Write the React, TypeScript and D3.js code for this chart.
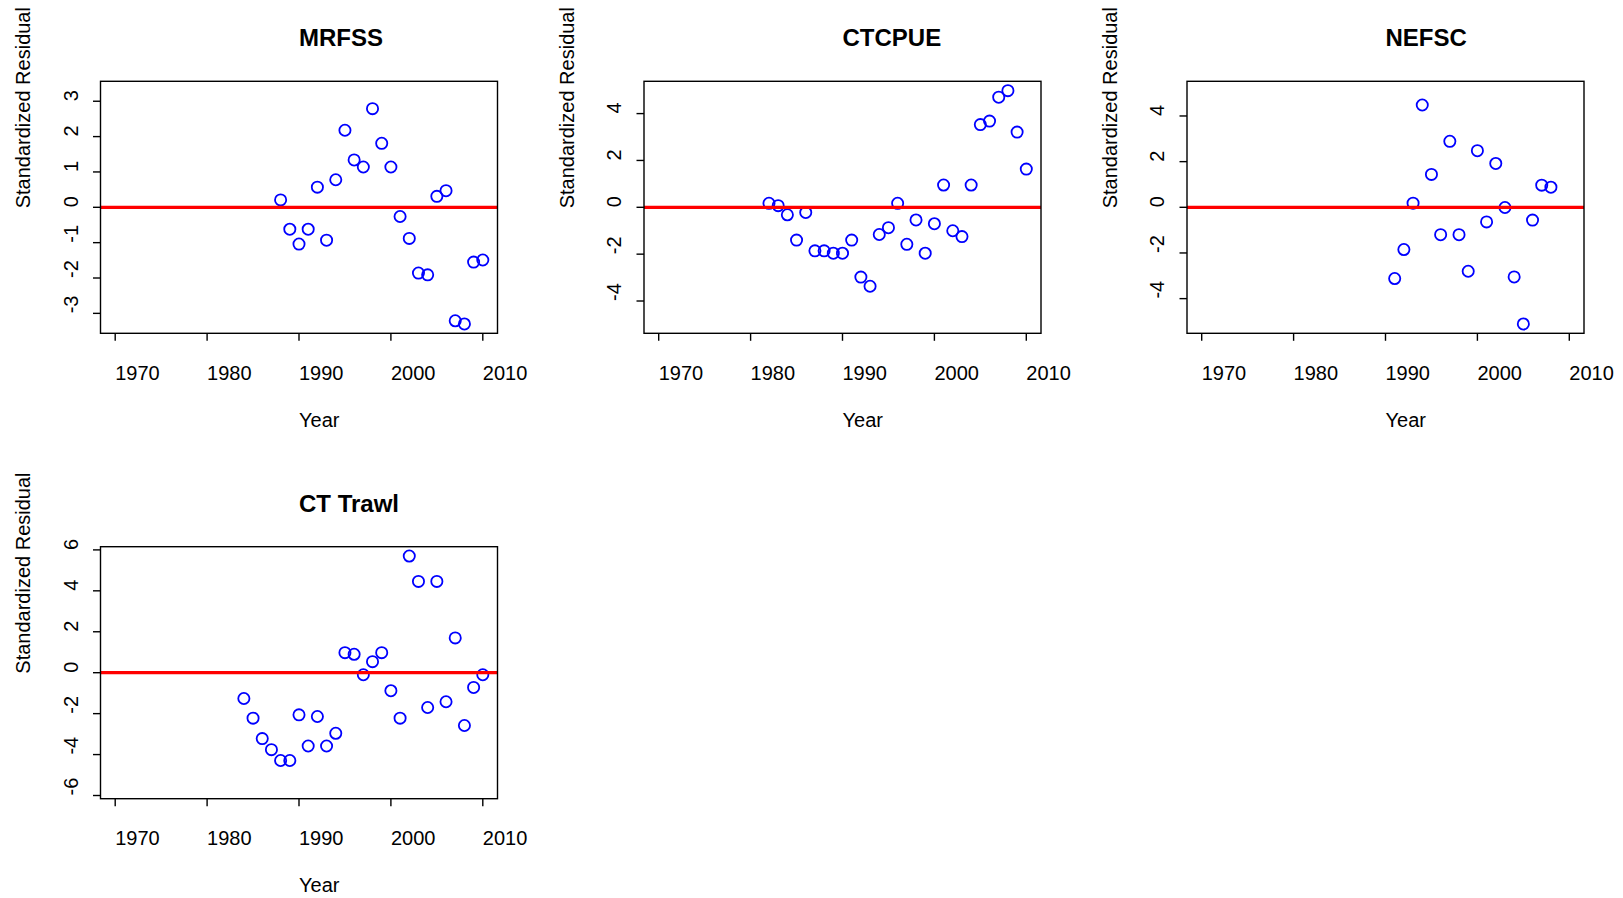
import * as d3 from 'd3';

// standardized residuals by survey
const mrfssYears = [1988, 1989, 1990, 1991, 1992, 1993, 1994, 1995, 1996, 1997, 1998, 1999, 2000, 2001, 2002, 2003, 2004, 2005, 2006, 2007, 2008, 2009, 2010];
const mrfssResid = [0.21, -0.62, -1.04, -0.62, 0.57, -0.93, 0.78, 2.18, 1.34, 1.14, 2.79, 1.81, 1.14, -0.26, -0.88, -1.86, -1.91, 0.31, 0.47, -3.21, -3.3, -1.55, -1.49];

const ctcpueYears = [1982, 1983, 1984, 1985, 1986, 1987, 1988, 1989, 1990, 1991, 1992, 1993, 1994, 1995, 1996, 1997, 1998, 1999, 2000, 2001, 2002, 2003, 2004, 2005, 2006, 2007, 2008, 2009, 2010];
const ctcpueResid = [0.17, 0.07, -0.32, -1.4, -0.22, -1.86, -1.86, -1.96, -1.96, -1.4, -2.98, -3.37, -1.16, -0.87, 0.17, -1.58, -0.54, -1.96, -0.7, 0.95, -1.0, -1.25, 0.95, 3.53, 3.68, 4.7, 4.98, 3.21, 1.63];

const nefscYears = [1991, 1992, 1993, 1994, 1995, 1996, 1997, 1998, 1999, 2000, 2001, 2002, 2003, 2004, 2005, 2006, 2007, 2008];
const nefscResid = [-3.12, -1.85, 0.18, 4.48, 1.44, -1.2, 2.89, -1.2, -2.8, 2.48, -0.64, 1.92, -0.01, -3.05, -5.11, -0.56, 0.97, 0.88];

const trawlYears = [1984, 1985, 1986, 1987, 1988, 1989, 1990, 1991, 1992, 1993, 1994, 1995, 1996, 1997, 1998, 1999, 2000, 2001, 2002, 2003, 2004, 2005, 2006, 2007, 2008, 2009, 2010];
const trawlResid = [-1.26, -2.22, -3.22, -3.76, -4.29, -4.29, -2.06, -3.58, -2.14, -3.58, -2.96, 0.98, 0.9, -0.1, 0.54, 0.98, -0.88, -2.22, 5.7, 4.46, -1.7, 4.46, -1.42, 1.7, -2.58, -0.72, -0.1];

const xTicks = [1970, 1980, 1990, 2000, 2010];
const mrfssTicks = [-3, -2, -1, 0, 1, 2, 3];
const evenTicks4 = [-4, -2, 0, 2, 4];
const evenTicks6 = [-6, -4, -2, 0, 2, 4, 6];

const panels = [
  { title: 'MRFSS', years: mrfssYears, resid: mrfssResid, yTicks: mrfssTicks, col: 0, row: 0 },
  { title: 'CTCPUE', years: ctcpueYears, resid: ctcpueResid, yTicks: evenTicks4, col: 1, row: 0 },
  { title: 'NEFSC', years: nefscYears, resid: nefscResid, yTicks: evenTicks4, col: 2, row: 0 },
  { title: 'CT Trawl', years: trawlYears, resid: trawlResid, yTicks: evenTicks6, col: 0, row: 1 },
];

const W = 1623;
const H = 898;
const boxW = 397;
const boxH = 252;
const colLeft = [100.5, 644, 1187];
const rowTop = [81.3, 546.7];
const font = 'Liberation Sans, Arial, Helvetica, sans-serif';

function Panel({ p }: { p: (typeof panels)[0] }) {
  const left = colLeft[p.col];
  const top = rowTop[p.row];
  const right = left + boxW;
  const bottom = top + boxH;

  // R style: 4% padding on each side
  const xlim = [1970, 2010];
  const xPad = (xlim[1] - xlim[0]) * 0.04;
  const x = d3.scaleLinear().domain([xlim[0] - xPad, xlim[1] + xPad]).range([left, right]);

  const lim = d3.max(p.resid, (d) => Math.abs(d)) ?? 1;
  const y = d3.scaleLinear().domain([-lim * 1.08, lim * 1.08]).range([bottom, top]);

  const cx = (left + right) / 2;
  const cy = (top + bottom) / 2;

  return (
    <g fontFamily={font} fill="#000">
      <text x={cx} y={top - 35} fontSize={24} fontWeight="bold">{p.title}</text>

      {p.years.map((yr, i) => (
        <circle key={yr} cx={x(yr)} cy={y(p.resid[i])} r={5.6} fill="none" stroke="#0000ff" strokeWidth={1.8} />
      ))}

      <line x1={left} x2={right} y1={y(0)} y2={y(0)} stroke="#ff0000" strokeWidth={3.3} />

      <rect x={left} y={top} width={boxW} height={boxH} fill="none" stroke="#000" strokeWidth={1.4} />

      {xTicks.map((t) => (
        <g key={t}>
          <line x1={x(t)} x2={x(t)} y1={bottom} y2={bottom + 7.5} stroke="#000" strokeWidth={1.4} />
          <text x={x(t)} y={bottom + 46.5} fontSize={20}>{t}</text>
        </g>
      ))}

      {p.yTicks.map((t) => (
        <g key={t}>
          <line x1={left - 7.5} x2={left} y1={y(t)} y2={y(t)} stroke="#000" strokeWidth={1.4} />
          <text transform={`translate(${left - 23},${y(t)}) rotate(-90)`} fontSize={20}>{t}</text>
        </g>
      ))}

      <text x={cx} y={bottom + 93.5} fontSize={20}>Year</text>
      <text transform={`translate(${left - 70.2},${cy + 1}) rotate(-90)`} fontSize={20}>Standardized Residual</text>
    </g>
  );
}

export default function App() {
  return (
    <svg
      width={W}
      height={H}
      viewBox={`0 0 ${W} ${H}`}
      style={{ position: 'absolute', left: 0, top: 0, display: 'block', background: '#fff' }}
    >
      <rect width={W} height={H} fill="#fff" />
      {panels.map((p) => <Panel key={p.title} p={p} />)}
    </svg>
  );
}
